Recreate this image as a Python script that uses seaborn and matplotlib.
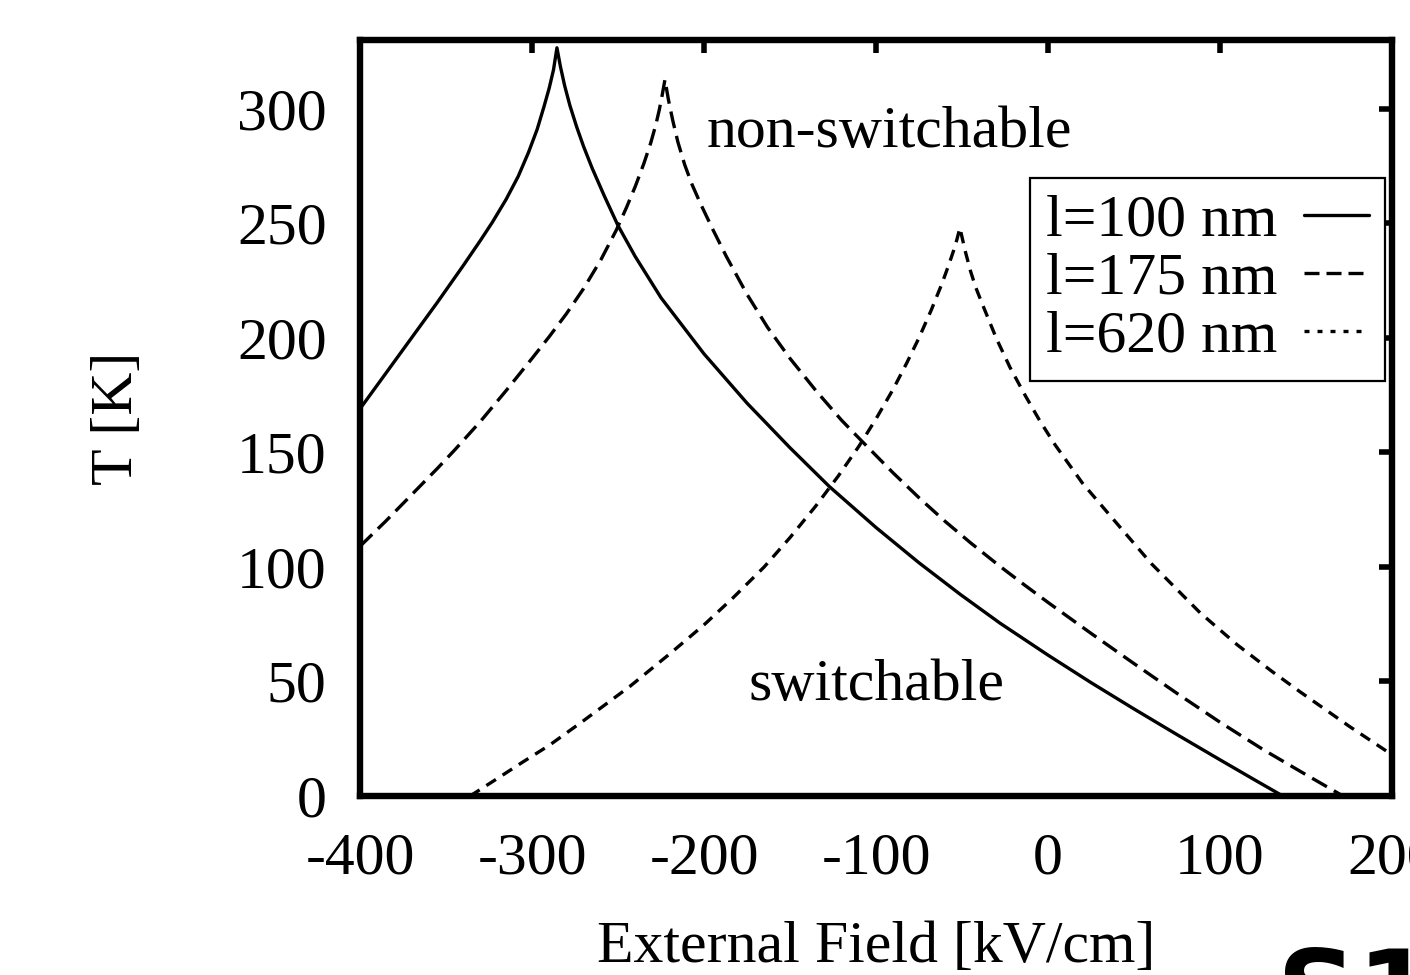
import numpy as np
import pandas as pd
import matplotlib
matplotlib.use("Agg")
import matplotlib.pyplot as plt
import seaborn as sns

# ---- data ----
x_100 = [-400, -385, -370, -355, -340, -330, -323, -315, -308, -302, -297, -293, -290, -287.5,
         -285.5,
         -283.5, -281, -278, -274, -270, -265, -258, -250, -240, -225, -200, -175, -150, -127,
         -100, -75, -51, -28, 0, 25, 50, 75, 100, 120, 136.5]
T_100 = [169, 184.5, 200, 215.5, 231.5, 242.5, 250.5, 260.5, 270.5, 281, 291, 301, 309, 317,
         326.6,
         318.5, 310, 301.5, 292, 283.5, 274, 262, 249, 235.5, 217.5, 193, 171.5, 152, 135,
         117.2, 101.8, 88, 75.5, 61.5, 49.5, 38, 26.8, 15.8, 7.1, 0]

x_175 = [-400, -385, -370, -355, -345, -330, -315, -300, -290, -280, -270, -260, -251, -245,
         -240, -235, -231, -228, -226, -224.3, -222.7,
         -220.7, -218.2, -215.2, -211.2, -207, -202, -195, -187, -175, -163, -150, -135, -120,
         -109, -90, -75, -60, -45, -28, -14, 0, 25, 50, 75, 100, 125, 150, 171.5]
T_175 = [109, 120, 131.5, 143, 151, 163.5, 177, 191, 200.5, 210.5, 221.5, 234, 247, 257,
         266, 276, 285, 293, 299.5, 306, 312.7,
         304, 295, 285.5, 275.5, 267, 258.5, 247.5, 235.5, 219, 204.5, 191, 177, 164,
         155.5, 141, 130.2, 120, 110.5, 100.3, 92.3, 84.5, 71, 57.8, 44.8, 32.2, 20.3, 9.3, 0]

x_620 = [-336, -320, -305, -290, -270, -243, -220, -200, -183, -165, -150, -135, -122, -110,
         -100, -90, -82, -75, -68, -62, -58, -55, -53, -51.2,
         -50, -48, -45, -42, -38.6, -30, -22.1, -13, -4.7, 4.1, 20, 36, 60, 88.4, 110, 130,
         146.5, 175, 200]
T_620 = [0, 7.7, 15, 22.1, 32.9, 47.9, 62, 74.7, 86.6, 100, 112.8, 126.6, 139.6, 152.6,
         164.6, 177.6, 189.2, 200, 211.9, 223, 231.2, 237.8, 242.8, 248,
         244, 237.5, 229, 222, 215.5, 199.7, 187.1, 174.5, 163.7, 153.3, 136.6, 122.5, 101.5,
         80, 66, 54.5, 45.5, 30.5, 18]

labels = ["l=100 nm", "l=175 nm", "l=620 nm"]
x_ticks = [-400, -300, -200, -100, 0, 100, 200]
y_ticks = [0, 50, 100, 150, 200, 250, 300]

df = pd.concat([
    pd.DataFrame({"field": x_100, "T": T_100, "series": labels[0]}),
    pd.DataFrame({"field": x_175, "T": T_175, "series": labels[1]}),
    pd.DataFrame({"field": x_620, "T": T_620, "series": labels[2]}),
], ignore_index=True)

sns.set_style("white")
plt.rcParams["font.family"] = ["Liberation Serif", "DejaVu Serif"]
plt.rcParams["axes.unicode_minus"] = False
plt.rcParams["text.color"] = "black"
plt.rcParams["axes.labelcolor"] = "black"
plt.rcParams["xtick.color"] = "black"
plt.rcParams["ytick.color"] = "black"

FS = 43
fig = plt.figure(figsize=(14.1, 9.75), dpi=100)
ax = fig.add_axes([360 / 1410, 1 - 796 / 975, 1032 / 1410, 756 / 975])

sns.lineplot(data=df, x="field", y="T", style="series", style_order=labels,
             dashes={labels[0]: "", labels[1]: (5.1, 2.4), labels[2]: (3.4, 2.4)},
             color="black", linewidth=2.4, sort=False, estimator=None,
             legend=False, ax=ax)

for line, lab in zip(ax.get_lines(), labels):
    line.set_label(lab)
    line.set_solid_joinstyle("round")
    line.set_dash_joinstyle("round")

ax.set_xlim(-400, 200)
ax.set_ylim(0, 330)
ax.set_xticks(x_ticks)
ax.set_yticks(y_ticks)
ax.tick_params(axis="both", which="major", direction="in", length=9.5, width=4,
               labelsize=FS, top=True, right=True, color="black", labelcolor="black")
ax.tick_params(axis="y", pad=24)
ax.tick_params(axis="x", pad=26)
for sp in ax.spines.values():
    sp.set_visible(True)
    sp.set_linewidth(4.6)
    sp.set_color("black")

ax.set_xlabel("External Field [kV/cm]", fontsize=FS, va="center", color="black")
ax.xaxis.set_label_coords(0.5, (796 - 948) / 756)
ax.set_ylabel("T [K]", fontsize=FS, va="center", ha="center", color="black")
ax.yaxis.set_label_coords((118 - 360) / 1032, 0.5)

ax.text(-198.3, 289.5, "non-switchable", fontsize=FS, ha="left", va="center", color="black")
ax.text(-174.4, 47.8, "switchable", fontsize=FS, ha="left", va="center", color="black")

leg = ax.legend(loc="upper right", bbox_to_anchor=(0.993, 0.8175), borderaxespad=0,
                markerfirst=False, fontsize=FS, handlelength=1.08, handletextpad=0.45,
                labelspacing=0.05, borderpad=0.27, fancybox=False, framealpha=1,
                edgecolor="black")
leg.get_frame().set_linewidth(1.6)
for t in leg.get_texts():
    t.set_color("black")
leg_lines = leg.get_lines()
leg_lines[1].set_dashes((4.5, 2.1))
leg_lines[2].set_dashes((1.5, 2.4))

fig.text(1277 / 1410, -0.055, "S1", fontsize=80, fontweight="bold",
         family="DejaVu Sans", ha="left", va="baseline", color="black")

fig.savefig("out.png", dpi=100)
